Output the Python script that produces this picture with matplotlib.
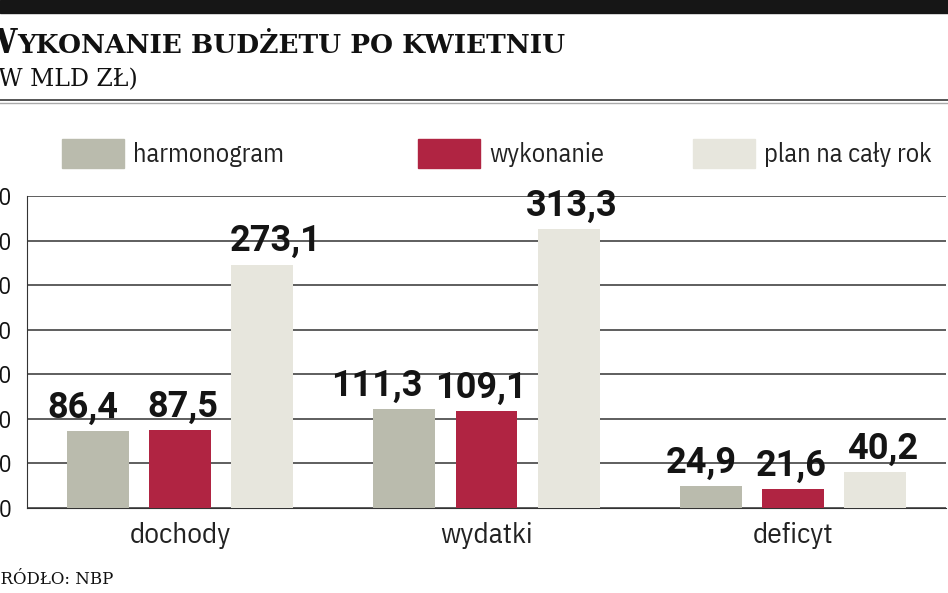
import matplotlib
matplotlib.use('Agg')
import matplotlib.pyplot as plt
import matplotlib.patches as patches
import numpy as np

categories = ['dochody', 'wydatki', 'deficyt']
series_names = ['harmonogram', 'wykonanie', 'plan na cały rok']
harmonogram = [86.4, 111.3, 24.9]
wykonanie = [87.5, 109.1, 21.6]
plan = [273.1, 313.3, 40.2]
yticks = [0, 50, 100, 150, 200, 250, 300, 350]

colors = ['#babbad', '#b02442', '#e7e6dd']
# small horizontal nudges of the value labels (pixels), as in the original layout
label_nudge = [[-15, -28, -9], [3, -6, -2], [13, 3, 8]]

light = ['IBM Plex Sans Condensed', 'DejaVu Sans']
bold = ['Roboto', 'DejaVu Sans']
serif = ['DejaVu Serif']

W, H = 948, 593
fig = plt.figure(figsize=(W / 100, H / 100), dpi=100)

# axes box in pixel coords: left 27, right 946, top 196, bottom 508
ax = fig.add_axes([27 / W, 1 - 508 / H, (946 - 27) / W, (508 - 196) / H])

x = np.arange(len(categories))
width = 0.202
step = 0.268
for i, (vals, col) in enumerate(zip([harmonogram, wykonanie, plan], colors)):
    pos = x + (i - 1) * step
    ax.bar(pos, vals, width=width, color=col, zorder=3)
    for j, (px, v) in enumerate(zip(pos, vals)):
        ax.annotate(f'{v:.1f}'.replace('.', ','), (px, v),
                    xytext=(label_nudge[i][j] * 0.72, 9.5),
                    textcoords='offset points', ha='center', va='baseline',
                    fontsize=26, fontweight='bold', family=bold,
                    color='#141414', zorder=5)

ax.set_xlim(-0.5, 2.5)
ax.set_ylim(0, 350)
ax.set_yticks(yticks)
ax.set_yticklabels([str(t) for t in yticks], family=light, fontsize=17,
                   color='#111111')
ax.tick_params(axis='y', length=0, pad=11)
ax.set_xticks(x)
ax.set_xticklabels(categories, family=light, fontsize=21, color='#222222')
ax.tick_params(axis='x', length=0, pad=10)
ax.yaxis.grid(True, color='#333333', linewidth=1.1, zorder=1)
for s in ['top', 'right']:
    ax.spines[s].set_visible(False)
ax.spines['left'].set_color('#333333')
ax.spines['bottom'].set_color('#333333')

# header band and rules
fig.patches.append(patches.Rectangle((0, 1 - 13 / H), 1, 13 / H,
                                     transform=fig.transFigure,
                                     color='#161616', zorder=0))
fig.add_artist(plt.Line2D([0, 1], [1 - 100 / H, 1 - 100 / H],
                          transform=fig.transFigure, color='#555555',
                          linewidth=1.4))
fig.add_artist(plt.Line2D([0, 1], [1 - 103 / H, 1 - 103 / H],
                          transform=fig.transFigure, color='#aaaaaa',
                          linewidth=1.0))

# title, small caps imitation: big first letter, rest placed after it
renderer = fig.canvas.get_renderer()
t1 = fig.text(-21 / W, 1 - 53 / H, 'W', family=serif, fontweight='bold',
              fontsize=24, color='#111111', va='baseline')
bb = t1.get_window_extent(renderer)
fig.text((bb.x1 + 1) / W, 1 - 53 / H, 'YKONANIE BUDŻETU PO KWIETNIU',
         family=serif, fontweight='bold', fontsize=19, color='#111111',
         va='baseline')
fig.text(-11 / W, 1 - 86 / H, '(W MLD ZŁ)', family=serif, fontsize=17,
         color='#111111', va='baseline')
fig.text(-11 / W, 1 - 584 / H, 'ŹRÓDŁO: NBP', family=serif, fontsize=12,
         color='#111111', va='baseline')

# legend
legend_x = [62, 418, 693]
for lx, name, col in zip(legend_x, series_names, colors):
    fig.patches.append(patches.Rectangle((lx / W, 1 - 168 / H), 62 / W, 29 / H,
                                         transform=fig.transFigure,
                                         color=col, zorder=1))
    fig.text((lx + 71) / W, 1 - 162 / H, name, family=light, fontsize=19,
             color='#222222', va='baseline')

fig.savefig('out.png', dpi=100)
